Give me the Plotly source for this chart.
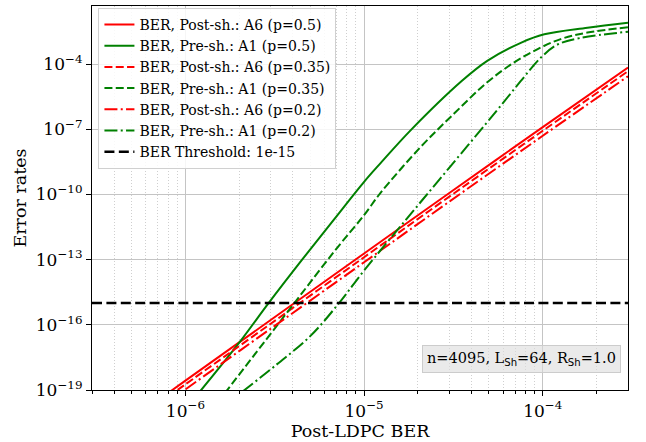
import plotly.graph_objects as go
import numpy as np

# ---------------- data ----------------
red_x = [8.0e-7, 1.0e-6, 3.0e-6, 1.0e-5, 3.0e-5, 1.0e-4, 3.0e-4]
red_p05 = [7.24e-20, 2.69e-19, 1.66e-16, 1.91e-13, 1.17e-10, 1.26e-7, 6.92e-5]
red_p035 = [4.90e-20, 1.82e-19, 1.12e-16, 1.29e-13, 7.94e-11, 8.51e-8, 4.68e-5]
red_p02 = [2.88e-20, 1.07e-19, 6.61e-17, 7.59e-14, 4.68e-11, 5.01e-8, 2.75e-5]

green_p05_x = [1.17e-6, 2.0e-6, 2.92e-6, 4.5e-6, 6.76e-6, 1.0e-5, 1.23e-5, 1.82e-5,
               3.53e-5, 4.89e-5, 7.59e-5, 1.02e-4, 1.78e-4, 3.0e-4]
green_p05 = [6.3e-20, 1.51e-17, 1.0e-15, 1.0e-13, 6.76e-12, 3.8e-10, 2.63e-9, 8.91e-8,
             1.7e-5, 1.41e-4, 9.77e-4, 2.34e-3, 4.68e-3, 7.94e-3]

green_p035_x = [1.66e-6, 4.07e-6, 6.92e-6, 1.0e-5, 1.23e-5, 2.07e-5, 3.18e-5, 4.89e-5,
                6.89e-5, 9.31e-5, 1.26e-4, 1.78e-4, 3.0e-4]
green_p035 = [7.08e-20, 1.0e-15, 2.82e-13, 1.12e-11, 1.12e-10, 1.51e-8, 5.13e-7, 1.45e-5,
              1.17e-4, 4.79e-4, 1.41e-3, 2.82e-3, 4.9e-3]

green_p02_x = [2.09e-6, 3.26e-6, 5.01e-6, 7.24e-6, 1.0e-5, 1.74e-5, 2.97e-5,
               5.53e-5, 7.5e-5, 9.77e-5, 1.21e-4, 1.62e-4, 3.0e-4]
green_p02 = [8.51e-20, 1.55e-18, 3.09e-17, 1.0e-15, 3.16e-14, 7.94e-12, 1.55e-9,
             7.24e-7, 1.58e-5, 2.0e-4, 7.94e-4, 1.58e-3, 3.09e-3]

threshold = 1e-15
x_limits = [3e-7, 3e-4]
y_limits = [1e-19, 4.7e-2]

x_tick_vals = [1e-6, 1e-5, 1e-4]
x_tick_text = ["10<sup>\u22126</sup>", "10<sup>\u22125</sup>", "10<sup>\u22124</sup>"]
y_tick_vals = [1e-19, 1e-16, 1e-13, 1e-10, 1e-7, 1e-4]
y_tick_text = ["10<sup>\u221219</sup>", "10<sup>\u221216</sup>", "10<sup>\u221213</sup>",
               "10<sup>\u221210</sup>", "10<sup>\u22127</sup>", "10<sup>\u22124</sup>"]

RED = "#ff0000"
GREEN = "#008000"
DASH = "8px,3.3px"
DASHDOT = "13px,3.3px,2px,3.3px"
LW = 2

series = [
    ("BER, Post-sh.: A6 (p=0.5)", red_x, red_p05, RED, "solid"),
    ("BER, Pre-sh.: A1 (p=0.5)", green_p05_x, green_p05, GREEN, "solid"),
    ("BER, Post-sh.: A6 (p=0.35)", red_x, red_p035, RED, DASH),
    ("BER, Pre-sh.: A1 (p=0.35)", green_p035_x, green_p035, GREEN, DASH),
    ("BER, Post-sh.: A6 (p=0.2)", red_x, red_p02, RED, DASHDOT),
    ("BER, Pre-sh.: A1 (p=0.2)", green_p02_x, green_p02, GREEN, DASHDOT),
]

fig = go.Figure()
for name, xs, ys, col, dash in series:
    fig.add_trace(go.Scatter(x=xs, y=ys, mode="lines", name=name,
                             line=dict(color=col, width=LW, dash=dash, shape="spline", smoothing=1.0)))

fig.add_trace(go.Scatter(x=x_limits, y=[threshold, threshold], mode="lines",
                         name="BER Threshold: 1e-15",
                         line=dict(color="black", width=2.5, dash="10px,4.4px")))

# minor ticks for x axis
minor_vals = []
for dec in [1e-7, 1e-6, 1e-5, 1e-4]:
    for m in range(2, 10):
        v = m * dec
        if x_limits[0] <= v <= x_limits[1]:
            minor_vals.append(v)

FONT = "DejaVu Serif"
fig.update_xaxes(type="log", range=[np.log10(x_limits[0]), np.log10(x_limits[1])],
                 tickmode="array", tickvals=x_tick_vals, ticktext=x_tick_text,
                 ticks="outside", ticklen=5, tickcolor="black",
                 showline=True, linecolor="black", linewidth=1.2, mirror=True,
                 showgrid=True, gridcolor="#c4c4c4", gridwidth=1,
                 minor=dict(tickmode="array", tickvals=minor_vals, ticks="outside", ticklen=3,
                            tickcolor="black", showgrid=True, gridcolor="#cfcfcf",
                            griddash="1px,2px", gridwidth=1),
                 title=dict(text="Post-LDPC BER", font=dict(family=FONT, size=17.5, color="black"),
                            standoff=4),
                 tickfont=dict(family=FONT, size=17, color="black"), zeroline=False)
fig.update_yaxes(type="log", range=[np.log10(y_limits[0]), np.log10(y_limits[1])],
                 tickmode="array", tickvals=y_tick_vals, ticktext=y_tick_text,
                 ticks="outside", ticklen=5, tickcolor="black",
                 showline=True, linecolor="black", linewidth=1.2, mirror=True,
                 showgrid=True, gridcolor="#c4c4c4", gridwidth=1,
                 title=dict(text="Error rates", font=dict(family=FONT, size=17.5, color="black"),
                            standoff=4),
                 tickfont=dict(family=FONT, size=17, color="black"), zeroline=False)

fig.add_annotation(xref="paper", yref="paper", x=0.987, y=0.08, xanchor="right", yanchor="middle",
                   text="n=4095, L<sub><span style='font-family:DejaVu Sans'>Sh</span></sub>=64, "
                        "R<sub><span style='font-family:DejaVu Sans'>Sh</span></sub>=1.0",
                   showarrow=False, font=dict(family=FONT, size=14.5, color="black"),
                   bgcolor="rgba(220,220,220,0.6)", bordercolor="#cccccc", borderwidth=1, borderpad=4)

fig.update_layout(
    width=646, height=442,
    margin=dict(l=92, r=18, t=5, b=51),
    paper_bgcolor="white", plot_bgcolor="white",
    showlegend=True,
    legend=dict(x=0.012, y=0.995, xanchor="left", yanchor="top",
                bgcolor="rgba(255,255,255,0.85)", bordercolor="#d0d0d0", borderwidth=1,
                font=dict(family=FONT, size=14, color="black"), itemwidth=30,
                tracegroupgap=0),
)

fig.write_html("out.html")
